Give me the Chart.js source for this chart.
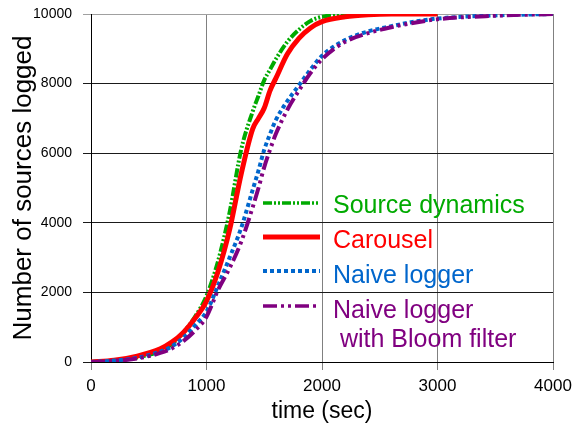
<!DOCTYPE html>
<html>
<head>
<meta charset="utf-8">
<script src="https://cdn.jsdelivr.net/npm/chart.js@4"></script>
<style>
  body { margin: 0; background: #fff; }
  #wrap { width: 577px; height: 427px; }
</style>
</head>
<body>
<div id="wrap"><canvas id="chart" width="577" height="427"></canvas></div>
<script>
const timeSec = [0, 200, 400, 600, 700, 800, 900, 1000, 1100, 1200, 1300, 1400, 1450, 1500, 1550, 1600, 1700, 1800, 1900, 2000, 2200, 2400, 2600, 2800, 3000, 3500, 4000];
const sourceDynamics = [0, 40, 130, 320, 520, 850, 1300, 1900, 2900, 4300, 6100, 7200, 7650, 8100, 8400, 8700, 9200, 9550, 9800, 9920, 9980, 10000, 10000, 10000, 10000, null, null];
const carousel = [0, 50, 170, 380, 570, 850, 1250, 1750, 2600, 3800, 5400, 6700, 7000, 7300, 7800, 8150, 8850, 9300, 9600, 9780, 9920, 9980, 10000, 10000, 10000, null, null];
const naiveLogger = [0, 40, 120, 300, 450, 700, 1050, 1450, 2200, 3000, 3850, 4950, 5500, 6100, 6550, 6950, 7500, 7950, 8400, 8800, 9250, 9500, 9650, 9780, 9870, 9960, 10000];
const bloomLogger = [0, 30, 100, 260, 390, 600, 900, 1300, 2070, 2700, 3450, 4450, 5000, 5600, 6100, 6550, 7250, 7800, 8300, 8700, 9200, 9450, 9620, 9750, 9850, 9950, 10000];

const seriesNames = ["Source dynamics", "Carousel", "Naive logger", ["Naive logger", " with Bloom filter"]];
const xTicks = [0, 1000, 2000, 3000, 4000];
const yTicks = [0, 2000, 4000, 6000, 8000, 10000];

const FONT = "'Liberation Sans', Arial, Helvetica, sans-serif";

const toPoints = (vals) => timeSec.map((t, i) => ({ x: t, y: vals[i] }));

// legend drawn inside the plot, like the original figure
const insideLegend = {
  id: "insideLegend",
  afterDatasetsDraw(chart) {
    const ctx = chart.ctx;
    const a = chart.chartArea;
    const lineY = [189, 223, 257, 292];
    const textY = [199, 234, 269, 304];
    ctx.save();
    ctx.font = "25px " + FONT;
    ctx.textBaseline = "alphabetic";
    ctx.textAlign = "left";
    chart.data.datasets.forEach((ds, i) => {
      ctx.strokeStyle = ds.borderColor;
      ctx.lineWidth = ds.legendWidth;
      ctx.setLineDash(ds.borderDash || []);
      ctx.beginPath();
      ctx.moveTo(a.left + 172, a.top + lineY[i]);
      ctx.lineTo(a.left + 229, a.top + lineY[i]);
      ctx.stroke();
      ctx.fillStyle = ds.borderColor;
      const lines = [].concat(seriesNames[i]);
      lines.forEach((txt, j) => {
        ctx.fillText(txt, a.left + 242, a.top + textY[i] + j * 29);
      });
    });
    ctx.restore();
  }
};

const noPad = (s) => { s.paddingTop = 0; s.paddingBottom = 0; s.paddingLeft = 0; s.paddingRight = 0; };

new Chart(document.getElementById("chart"), {
  type: "line",
  data: {
    datasets: [
      {
        label: "Source dynamics",
        data: toPoints(sourceDynamics),
        borderColor: "#00aa00",
        borderWidth: 4,
        legendWidth: 3.5,
        borderDash: [9, 2, 2, 2, 2, 2],
        order: 4,
      },
      {
        label: "Carousel",
        data: toPoints(carousel),
        borderColor: "#ff0000",
        borderWidth: 5,
        legendWidth: 5,
        order: 3,
      },
      {
        label: "Naive logger",
        data: toPoints(naiveLogger),
        borderColor: "#0066cc",
        borderWidth: 4,
        legendWidth: 4,
        borderDash: [4, 3],
        order: 2,
      },
      {
        label: "Naive logger with Bloom filter",
        data: toPoints(bloomLogger),
        borderColor: "#800080",
        borderWidth: 4,
        legendWidth: 3.5,
        borderDash: [14, 4, 3, 4, 3, 4],
        order: 1,
      },
    ],
  },
  options: {
    responsive: false,
    animation: false,
    cubicInterpolationMode: "monotone",
    pointRadius: 0,
    spanGaps: false,
    layout: { padding: { left: 0, right: 24, top: 14, bottom: 0 } },
    plugins: {
      legend: { display: false },
      tooltip: { enabled: false },
    },
    scales: {
      x: {
        type: "linear",
        min: 0,
        max: 4000,
        afterFit: (s) => { s.height = 65; noPad(s); },
        afterBuildTicks: (s) => { s.ticks = xTicks.map((v) => ({ value: v })); },
        grid: { color: "#808080", tickLength: 8 },
        border: { color: "#000", width: 1 },
        ticks: { color: "#000", padding: 6, font: { family: FONT, size: 17 }, callback: (v) => String(v) },
        title: {
          display: true,
          text: "time (sec)",
          color: "#000",
          font: { family: FONT, size: 23 },
          padding: { top: 0, bottom: 2 },
        },
      },
      y: {
        min: 0,
        max: 10000,
        afterFit: (s) => { s.width = 91; noPad(s); },
        afterBuildTicks: (s) => { s.ticks = yTicks.map((v) => ({ value: v })); },
        grid: {
          color: (c) => (c.tick && c.tick.value === 10000 ? "#a0a0a0" : "#1a1a1a"),
          tickLength: 8,
        },
        border: { color: "#000", width: 1 },
        ticks: { color: "#000", padding: 11, font: { family: FONT, size: 14 }, callback: (v) => String(v) },
        title: {
          display: true,
          text: "Number of sources logged",
          color: "#000",
          font: { family: FONT, size: 26 },
          padding: { top: 8, bottom: 0 },
        },
      },
    },
  },
  plugins: [insideLegend],
});
</script>
</body>
</html>
